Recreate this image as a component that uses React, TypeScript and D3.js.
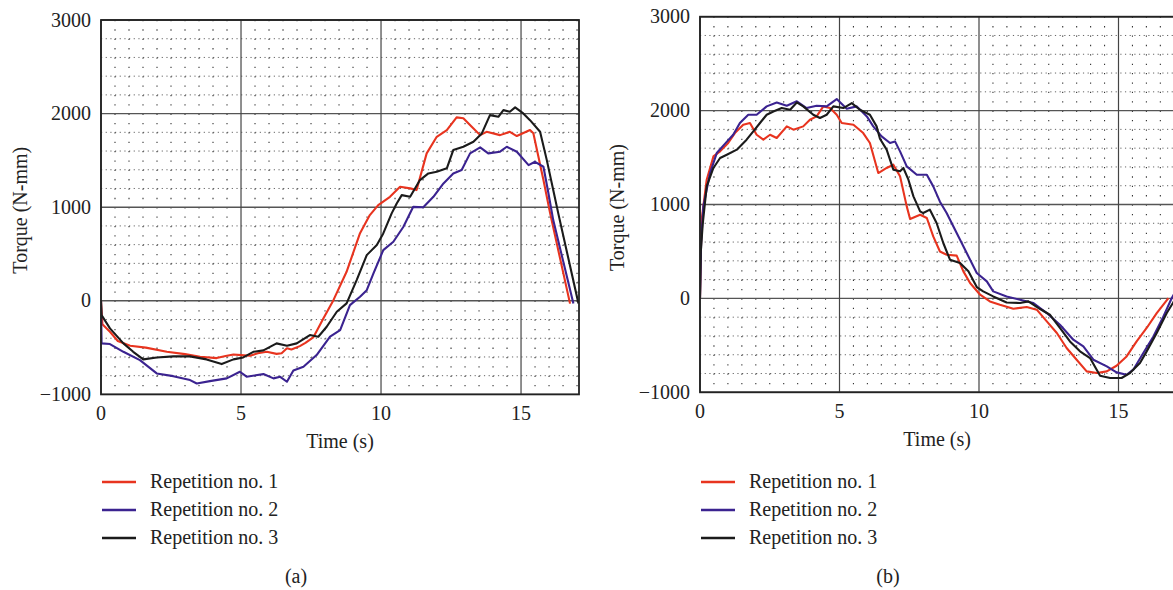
import React from "react";
import * as d3 from "d3";

type P = [number, number];

// Panel (a)
const aRep1: P[] = [[0,0],[0.05,-250],[0.32,-331],[0.6,-430],[1.04,-480],[1.6,-500],[2.35,-545],[3.0,-570],[3.54,-598],[4.13,-612],[4.45,-590],[4.73,-573],[5.0,-580],[5.32,-587],[5.6,-560],[5.92,-545],[6.27,-567],[6.45,-560],[6.64,-507],[6.8,-520],[7.1,-484],[7.3,-450],[7.58,-391],[7.94,-188],[8.3,7],[8.77,310],[9.25,723],[9.6,916],[9.9,1022],[10.32,1111],[10.68,1218],[11.04,1201],[11.27,1183],[11.63,1575],[11.99,1752],[12.35,1824],[12.7,1960],[12.94,1950],[13.24,1859],[13.54,1770],[13.77,1805],[14.25,1770],[14.6,1805],[14.85,1760],[15.32,1824],[15.44,1790],[15.8,1290],[16.04,934],[16.75,-30]];
const aRep2: P[] = [[0,0],[0.02,-455],[0.32,-462],[0.8,-545],[1.39,-634],[1.99,-776],[2.58,-805],[3.18,-847],[3.42,-883],[3.89,-858],[4.49,-829],[4.96,-758],[5.2,-811],[5.8,-783],[6.16,-829],[6.4,-812],[6.64,-865],[6.87,-745],[7.23,-705],[7.7,-580],[8.18,-384],[8.54,-313],[8.89,-46],[9.25,43],[9.49,114],[9.73,292],[10.08,541],[10.44,631],[10.8,791],[11.15,1004],[11.51,1000],[11.87,1111],[12.23,1254],[12.58,1361],[12.88,1397],[13.18,1575],[13.54,1639],[13.83,1575],[14.25,1593],[14.49,1646],[14.85,1593],[15.27,1450],[15.5,1485],[15.8,1432],[15.98,1147],[16.15,862],[16.87,-28]];
const aRep3: P[] = [[0,0],[0.02,-153],[0.32,-295],[0.8,-455],[1.15,-545],[1.51,-626],[1.99,-605],[2.58,-594],[3.18,-594],[3.77,-626],[4.31,-676],[4.73,-626],[5.08,-605],[5.44,-545],[5.8,-530],[6.27,-455],[6.64,-480],[6.99,-455],[7.46,-366],[7.76,-384],[8.06,-277],[8.42,-117],[8.77,-28],[9.13,221],[9.49,488],[9.85,595],[10.08,720],[10.38,934],[10.56,1040],[10.74,1129],[11.04,1111],[11.39,1290],[11.69,1361],[11.99,1379],[12.35,1415],[12.58,1610],[12.94,1646],[13.3,1699],[13.6,1788],[13.89,1984],[14.19,1966],[14.37,2037],[14.6,2020],[14.79,2066],[15.08,2002],[15.32,1930],[15.68,1806],[15.92,1503],[16.15,1183],[16.33,934],[17.05,-28]];

// Panel (b)
const bRep1: P[] = [[0,0],[0.03,500],[0.06,838],[0.24,1264],[0.48,1512],[0.72,1566],[1.01,1655],[1.25,1761],[1.55,1850],[1.79,1868],[2.03,1743],[2.27,1690],[2.51,1743],[2.75,1708],[3.11,1832],[3.35,1797],[3.7,1832],[3.94,1903],[4.18,1938],[4.42,2045],[4.66,2027],[4.9,1956],[5.08,1868],[5.5,1850],[5.85,1761],[6.09,1655],[6.39,1335],[6.69,1389],[6.93,1424],[7.17,1300],[7.41,980],[7.53,845],[7.89,891],[8.13,856],[8.36,660],[8.6,500],[8.84,465],[9.2,456],[9.44,288],[9.68,164],[10.04,39],[10.39,-32],[10.75,-67],[11.23,-110],[11.71,-92],[12.07,-120],[12.43,-245],[12.79,-369],[13.14,-528],[13.5,-653],[13.86,-777],[14.22,-795],[14.58,-777],[14.93,-717],[15.29,-618],[15.65,-458],[16.01,-315],[16.37,-156],[16.79,4]];
const bRep2: P[] = [[0,0],[0.04,600],[0.12,980],[0.36,1335],[0.6,1548],[0.9,1648],[1.19,1743],[1.43,1868],[1.73,1956],[2.03,1956],[2.39,2045],[2.75,2087],[3.11,2052],[3.47,2099],[3.82,2027],[4.18,2052],[4.54,2045],[4.9,2123],[5.26,2020],[5.62,2045],[5.98,1938],[6.21,1832],[6.51,1725],[6.81,1655],[6.99,1672],[7.17,1566],[7.41,1406],[7.77,1317],[8.13,1317],[8.36,1193],[8.6,1030],[8.84,909],[9.2,696],[9.56,483],[9.92,270],[10.28,181],[10.51,75],[10.99,21],[11.47,-14],[11.95,-49],[12.43,-156],[12.9,-280],[13.38,-440],[13.74,-511],[14.1,-653],[14.58,-724],[14.93,-788],[15.29,-813],[15.53,-759],[15.89,-582],[16.25,-405],[16.61,-192],[16.91,4],[17.0,50]];
const bRep3: P[] = [[0,0],[0.03,500],[0.1,800],[0.24,1193],[0.48,1389],[0.72,1495],[0.96,1530],[1.32,1584],[1.67,1690],[1.91,1779],[2.15,1868],[2.39,1956],[2.63,1991],[2.93,2027],[3.23,2009],[3.47,2087],[3.7,2045],[4.06,1956],[4.3,1921],[4.54,1956],[4.78,2045],[5.14,2027],[5.44,2080],[5.73,2009],[6.09,1956],[6.33,1832],[6.45,1700],[6.69,1584],[6.93,1371],[7.17,1353],[7.29,1389],[7.47,1264],[7.65,1087],[7.89,927],[8.0,909],[8.24,945],[8.48,803],[8.72,590],[8.96,412],[9.32,377],[9.62,288],[9.92,121],[10.15,75],[10.51,21],[10.99,-43],[11.47,-49],[11.77,-32],[12.19,-113],[12.54,-174],[12.9,-315],[13.26,-458],[13.62,-564],[13.98,-635],[14.34,-823],[14.7,-848],[15.11,-848],[15.41,-795],[15.77,-688],[16.01,-564],[16.37,-369],[16.73,-156],[16.95,-49],[17.1,30]];

const xTicks = [0, 5, 10, 15];
const yTicks = [-1000, 0, 1000, 2000, 3000];
const seriesNames = ["Repetition no. 1", "Repetition no. 2", "Repetition no. 3"];
const seriesColors = ["#e8341f", "#3b2390", "#1b1b1b"];
const FONT = "'Liberation Serif', 'Times New Roman', serif";

interface PanelProps {
  id: string;
  x0: number; x1: number; xMax: number;
  y0: number; y1: number;
  data: P[][];
  yTitleX: number;
  label: string;
}

function Panel({ id, x0, x1, xMax, y0, y1, data, yTitleX, label }: PanelProps) {
  const x = d3.scaleLinear().domain([0, xMax]).range([x0, x1]);
  const y = d3.scaleLinear().domain([-1000, 3000]).range([y1, y0]);
  const line = d3.line<P>().x(d => x(d[0])).y(d => y(d[1]));
  const minorX = d3.range(0.5, xMax + 0.001, 0.5).filter(v => v % 5 !== 0);
  const minorY = d3.range(-800, 3000, 200).filter(v => v % 1000 !== 0);
  const dotStep = Math.abs(y(0) - y(100));
  const cx = (x0 + x1) / 2;
  return (
    <g>
      <defs>
        <clipPath id={"clip" + id}>
          <rect x={x0} y={y0 - 2} width={x1 - x0} height={y1 - y0 + 4} />
        </clipPath>
      </defs>
      {minorY.map(v => (
        <line key={"my" + v} x1={x0} x2={x1} y1={y(v)} y2={y(v)} stroke="#666" strokeWidth={1} strokeDasharray="1.2,3.47" />
      ))}
      {minorX.map(v => (
        <line key={"mx" + v} x1={x(v)} x2={x(v)} y1={y0} y2={y1} stroke="#333" strokeWidth={1.1} strokeDasharray={`1.3,${dotStep - 1.3}`} />
      ))}
      {yTicks.map(v => (
        <line key={"gy" + v} x1={x0} x2={x1} y1={y(v)} y2={y(v)} stroke="#555" strokeWidth={1.4} />
      ))}
      {xTicks.map(v => (
        <line key={"gx" + v} x1={x(v)} x2={x(v)} y1={y0} y2={y1} stroke="#444" strokeWidth={1.2} />
      ))}
      <g clipPath={`url(#clip${id})`}>
        {data.map((s, i) => (
          <path key={i} d={line(s) || ""} fill="none" stroke={seriesColors[i]} strokeWidth={2.1} strokeLinejoin="round" />
        ))}
      </g>
      <rect x={x0} y={y0} width={x1 - x0} height={y1 - y0} fill="none" stroke="#222" strokeWidth={1.8} />
      {yTicks.map(v => (
        <text key={"ty" + v} x={x0 - 10} y={y(v) + 6.5} textAnchor="end" fontFamily={FONT} fontSize={20} fill="#222">
          {v < 0 ? "\u2212" + Math.abs(v) : String(v)}
        </text>
      ))}
      {xTicks.map(v => (
        <text key={"tx" + v} x={x(v)} y={y1 + 26} textAnchor="middle" fontFamily={FONT} fontSize={20} fill="#222">
          {v}
        </text>
      ))}
      <text x={cx} y={y1 + 54} textAnchor="middle" fontFamily={FONT} fontSize={20} fill="#222">Time (s)</text>
      <text transform={`translate(${yTitleX},${(y0 + y1) / 2 + 3}) rotate(-90)`} textAnchor="middle" fontFamily={FONT} fontSize={20} fill="#222">Torque (N-mm)</text>
      {seriesNames.map((n, i) => (
        <g key={n}>
          <line x1={x0 + 1} x2={x0 + 35} y1={482 + i * 28} y2={482 + i * 28} stroke={seriesColors[i]} strokeWidth={2.5} />
          <text x={x0 + 49} y={488 + i * 28} fontFamily={FONT} fontSize={20} fill="#222">{n}</text>
        </g>
      ))}
      <text x={label === "(a)" ? 296 : 888} y={583} textAnchor="middle" fontFamily={FONT} fontSize={20} fill="#222">{label}</text>
    </g>
  );
}

export default function App() {
  return (
    <svg width={1173} height={590} style={{ position: "absolute", left: 0, top: 0, background: "#fff" }}>
      <rect x={0} y={0} width={1173} height={590} fill="#fff" />
      <Panel id="a" x0={101} x1={579} xMax={17.07} y0={20} y1={394.4} data={[aRep1, aRep2, aRep3]} yTitleX={27} label="(a)" />
      <Panel id="b" x0={700} x1={1174.3} xMax={17} y0={16.7} y1={392.3} data={[bRep1, bRep2, bRep3]} yTitleX={624} label="(b)" />
    </svg>
  );
}
